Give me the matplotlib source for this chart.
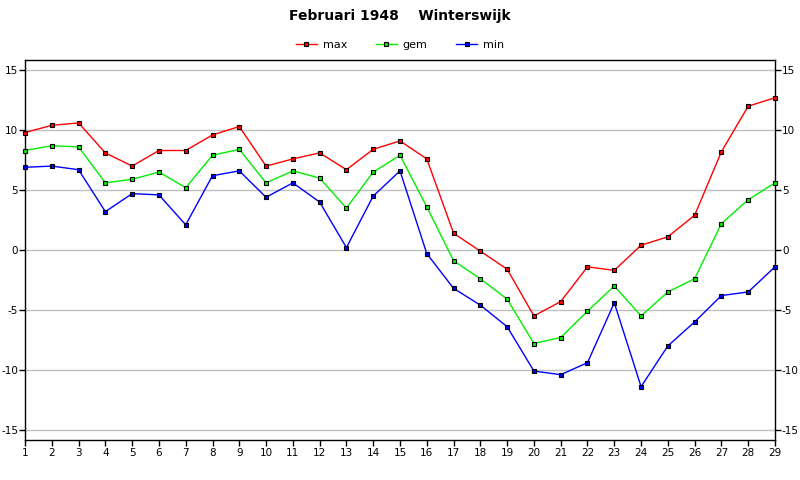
import matplotlib
matplotlib.use("Agg")
import matplotlib.pyplot as plt

plt.rcParams["axes.unicode_minus"] = False

days = list(range(1, 30))
tmax = [9.8, 10.4, 10.6, 8.1, 7.0, 8.3, 8.3, 9.6, 10.3, 7.0, 7.6, 8.1, 6.7, 8.4, 9.1,
        7.6, 1.4, -0.1, -1.6, -5.5, -4.3, -1.4, -1.7, 0.4, 1.1, 2.9, 8.2, 12.0, 12.7]
tgem = [8.3, 8.7, 8.6, 5.6, 5.9, 6.5, 5.2, 7.9, 8.4, 5.6, 6.6, 6.0, 3.5, 6.5, 7.9,
        3.6, -0.9, -2.4, -4.1, -7.8, -7.3, -5.1, -3.0, -5.5, -3.5, -2.4, 2.2, 4.2, 5.6]
tmin = [6.9, 7.0, 6.7, 3.2, 4.7, 4.6, 2.1, 6.2, 6.6, 4.4, 5.6, 4.0, 0.2, 4.5, 6.6,
        -0.3, -3.2, -4.6, -6.4, -10.1, -10.4, -9.4, -4.4, -11.4, -8.0, -6.0, -3.8, -3.5, -1.4]
series_names = ["max", "gem", "min"]
yticks = [-15, -10, -5, 0, 5, 10, 15]

fig = plt.figure(figsize=(8, 4.8), dpi=100)
ax = fig.add_axes([25/800, 40/480, 750/800, 380/480])

for vals, col, name in zip([tmax, tgem, tmin], ["#ff0000", "#00ee00", "#0000ff"], series_names):
    ax.plot(days, vals, color=col, lw=1, marker="s", markersize=3.5,
            markerfacecolor=col, markeredgecolor="black", markeredgewidth=0.8,
            label=name, clip_on=False, zorder=3)

ax.set_xlim(1, 29)
ax.set_ylim(-15.85, 15.85)
ax.set_xticks(days)
ax.set_xticklabels([str(d) for d in days])
ax.set_yticks(yticks)
ax.grid(axis="y", color="#c0c0c0", lw=1)
ax.tick_params(axis="both", labelsize=7.5, direction="out", length=4, width=1, pad=1.5)
ax.tick_params(axis="y", left=True, right=True, labelleft=True, labelright=True, pad=1)
for s in ax.spines.values():
    s.set_linewidth(1)
    s.set_color("black")

fig.text(0.5, 1 - 16/480, "Februari 1948    Winterswijk", ha="center", va="center",
         fontsize=10, fontweight="bold")
fig.legend(loc="center", bbox_to_anchor=(0.5, 1 - 45/480), ncol=3, frameon=False,
           fontsize=8, handlelength=1.9, columnspacing=2.6, handletextpad=0.5)

fig.savefig("out.png", dpi=100)
